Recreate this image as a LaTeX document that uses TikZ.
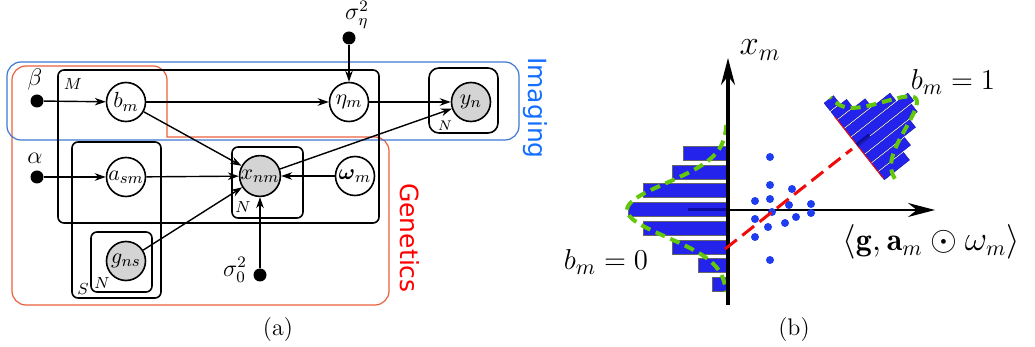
\documentclass[tikz,border=0pt]{standalone}
\usepackage{amsmath,amssymb}
\usepackage{fontspec}
\newfontfamily\labfont{DejaVu Sans}
\usetikzlibrary{arrows.meta,calc}
\definecolor{imgbox}{RGB}{60,120,210}
\definecolor{imgtext}{RGB}{20,110,255}
\definecolor{genbox}{RGB}{235,95,60}
\definecolor{gentext}{RGB}{255,0,0}
\definecolor{obsgray}{RGB}{212,212,212}
\definecolor{barblue}{RGB}{35,35,235}
\definecolor{gaussgreen}{RGB}{100,200,10}
\definecolor{dotblue}{RGB}{30,60,240}
\definecolor{meanblue}{RGB}{10,10,150}
\definecolor{dashred}{RGB}{240,10,10}
\begin{document}
\begin{tikzpicture}[x=0.5pt,y=-0.5pt,
  var/.style={circle, draw, line width=0.8pt, minimum size=19.5pt, inner sep=0pt, font=\fontsize{11}{13}\selectfont},
  obs/.style={var, fill=obsgray},
  hyper/.style={circle, fill=black, minimum size=6.5pt, inner sep=0pt},
  plate/.style={draw, line width=0.8pt, rounded corners=3pt},
  edge/.style={-{Stealth[length=5.5pt,width=3.8pt]}, line width=0.7pt},
  platelabel/.style={font=\footnotesize, inner sep=0pt},
  hlabel/.style={font=\fontsize{12}{14}\selectfont, inner sep=0pt},
  bar/.style={fill=barblue, draw=black!60, line width=0.3pt},
  rbar/.style={fill=barblue, draw=barblue!70!black, line width=0.2pt},
  gauss/.style={draw=gaussgreen, line width=2pt, dash pattern=on 5pt off 3pt},
  sdot/.style={circle, fill=dotblue, minimum size=4pt, inner sep=0pt},
  axis/.style={-{Stealth[length=13.5pt,width=7pt]}},
  biglabel/.style={inner sep=0pt},
  caption/.style={font=\fontsize{12}{14}\selectfont, inner sep=0pt}
]
\useasboundingbox (0,0) rectangle (1035,347);

% ---------- (a) ----------
% group boxes
\draw[genbox, line width=0.6pt, rounded corners=7pt]
  (12,200) -- (12,66) -- (167,66) -- (167,120) [sharp corners] -- (167,137) -- (300,137)
  [rounded corners=7pt] -- (389,137) -- (389,305) -- (12,305) -- cycle;
\draw[imgbox, line width=0.6pt, rounded corners=7pt] (7,62) rectangle (519,140);
\node[rotate=-90, text=imgtext, font=\labfont\fontsize{12.5}{14}\selectfont, inner sep=0pt] (imaging) at (535,108) {Imaging};
\node[rotate=-90, text=gentext, font=\labfont\fontsize{12.5}{14}\selectfont, inner sep=0pt] (genetics) at (410,238) {Genetics};

% plates
\draw[plate] (58,70) rectangle (379,223);
\draw[plate] (72,142) rectangle (161,298);
\draw[plate] (232,147) rectangle (303,218);
\draw[plate] (91,232) rectangle (152,292);
\draw[plate, rounded corners=5pt] (429,68) rectangle (498,133);
\node[platelabel] (lM) at (73,84) {$M$};
\node[platelabel] (lS) at (83,289) {$S$};
\node[platelabel] (lNx) at (243,207) {$N$};
\node[platelabel] (lNg) at (102,283) {$N$};
\node[platelabel, font=\scriptsize] (lNy) at (445,126) {$N$};

% nodes
\node[hyper] (beta) at (37,101) {};
\node[hlabel] (betal) at (35,80) {$\beta$};
\node[var] (bm) at (126,102) {$b_m$};
\node[var] (eta) at (349,102) {$\eta_m$};
\node[obs] (yn) at (471,102) {$y_n$};
\node[hyper] (seta) at (349,38) {};
\node[hlabel] (setal) at (357,15) {$\sigma_\eta^2$};
\node[hyper] (alpha) at (37,177) {};
\node[hlabel] (alphal) at (35,158) {$\alpha$};
\node[var] (asm) at (126,177) {$a_{sm}$};
\node[obs] (xnm) at (260,176) {$x_{nm}$};
\node[var] (om) at (355,176) {$\boldsymbol{\omega}_m$};
\node[obs] (gns) at (126,261) {$g_{ns}$};
\node[hyper] (s0) at (260,275) {};
\node[hlabel] (s0l) at (235,270) {$\sigma_0^2$};

% edges
\draw[edge] (beta) -- (bm);
\draw[edge] (bm) -- (eta);
\draw[edge] (eta) -- (yn);
\draw[edge] (seta) -- (eta);
\draw[edge] (bm) -- (xnm);
\draw[edge] (alpha) -- (asm);
\draw[edge] (asm) -- (xnm);
\draw[edge] (om) -- (xnm);
\draw[edge] (gns) -- (xnm);
\draw[edge] (s0) -- (xnm);
\draw[edge] (xnm) -- (yn);

\node[caption] (capa) at (278,330) {(a)};

% ---------- (b) ----------
\coordinate (o) at (728,210);
\coordinate (ytop) at (728,58);
\coordinate (ybot) at (728,305);
\coordinate (xr) at (935,210);

% left histogram
\foreach \ya/\xl in {146/683, 165/672, 183/643, 202/628, 221/643, 240/672, 258/698, 277/712}
  \draw[bar] (\xl,\ya) rectangle (727,\ya+14);
\draw[meanblue, line width=1.5pt, opacity=0.85] (688,210) -- (727,210);
\draw[gauss] plot[domain=125:292, samples=60, smooth] ({727-100*exp(-(\x-210)*(\x-210)/1458)}, \x);

% axes
\draw[axis, line width=1.6pt] (ybot) -- (ytop);
\draw[axis, line width=1.1pt] (o) -- (xr);

% scatter
\foreach \px/\py [count=\i] in {770/157, 770/185, 792/189, 755/201, 770/199, 789/205, 811/204, 772/212, 811/213, 755/219, 796/217, 768/227, 785/223, 755/237, 770/260}
  \node[sdot] (d\i) at (\px,\py) {};

% regression line
\coordinate (r0) at (725,249);
\coordinate (r1) at (852,149);
\draw[dashred, line width=1.5pt, dash pattern=on 7.5pt off 3.5pt] (r0) -- (r1);

% rotated histogram
\begin{scope}[shift={(857,145)}, x={(0.3925pt,0.3095pt)}, y={(-0.309pt,0.393pt)}]
  \foreach \s/\L in {48.5/12, 37.5/20, 26.5/35, 15.5/58, 4.5/72, -6.5/68, -17.5/57, -28.5/42, -39.5/32}
    \draw[rbar] (0,\s-4.8) -- (\L,\s-4.8) -- (\L,\s+4.8) -- (0,\s+4.8) -- cycle;
  \draw[dashred, line width=0.5pt] (0,35.6) -- (0,-42);
  \draw[meanblue, line width=2pt, opacity=0.85] (0,0) -- (16,0);
  \draw[gauss] plot[domain=-50:54, samples=60, smooth] ({8+67*exp(-\x*\x/578)}, \x);
\end{scope}

\node[biglabel, font=\fontsize{18}{20}\selectfont] (xml) at (760,50) {$x_m$};
\node[biglabel, font=\fontsize{15}{18}\selectfont] (b1) at (953,82) {$b_m = 1$};
\node[biglabel, font=\fontsize{15}{18}\selectfont] (b0) at (606,262) {$b_m = 0$};
\node[biglabel, font=\fontsize{16}{19}\selectfont] (ip) at (931,242) {$\langle \mathbf{g}, \mathbf{a}_m \odot \omega_m \rangle$};
\node[caption] (capb) at (794,330) {(b)};
\end{tikzpicture}
\end{document}
